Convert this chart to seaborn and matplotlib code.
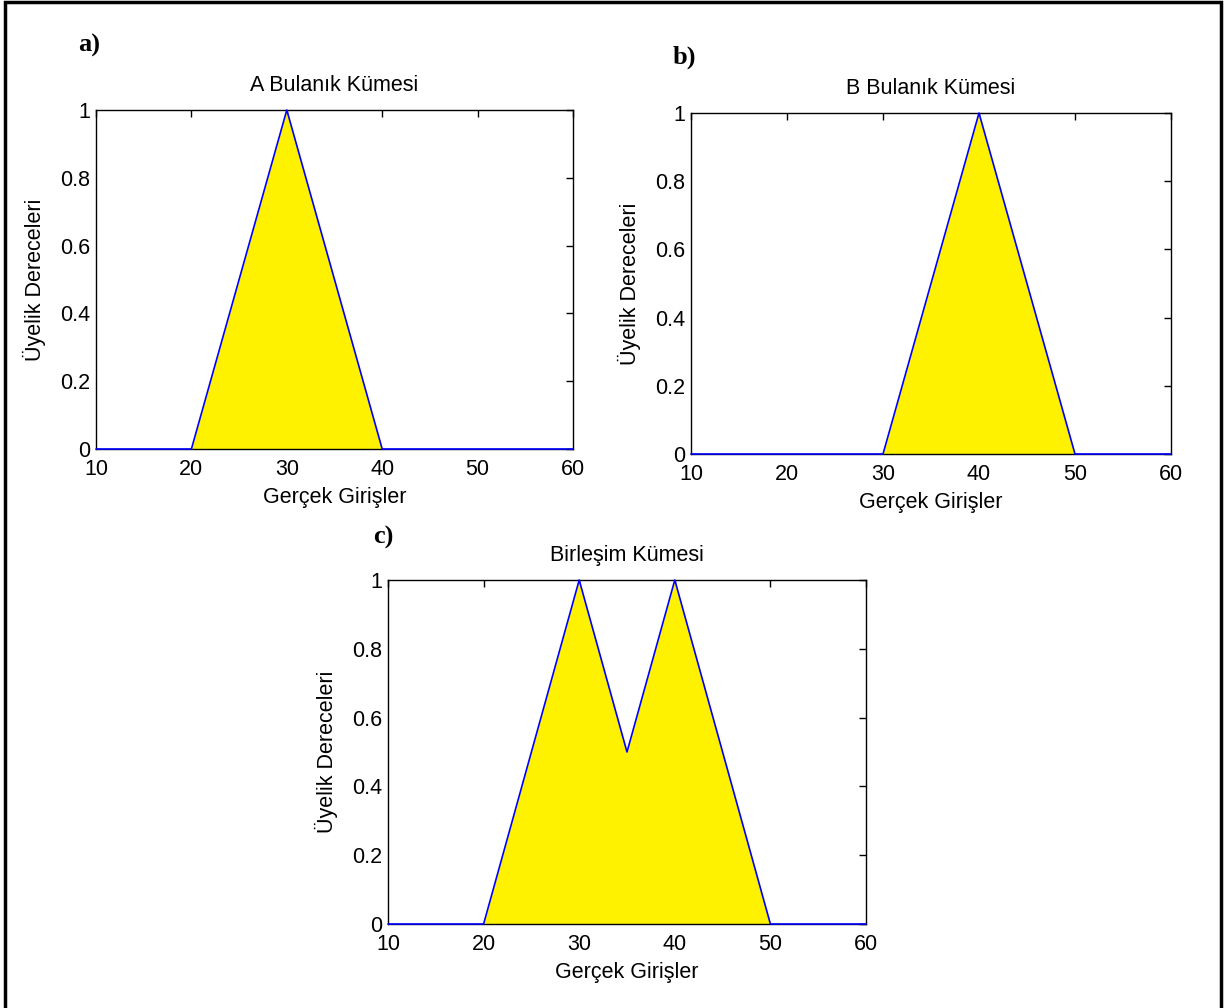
import numpy as np
import pandas as pd
import matplotlib
matplotlib.use("Agg")
import matplotlib.pyplot as plt
import seaborn as sns
from matplotlib.patches import Rectangle

sns.set_theme(style="white")
plt.rcParams['font.family'] = ['Liberation Sans', 'DejaVu Sans']

# Data
x_a = [10, 20, 30, 40, 60]
y_a = [0, 0, 1, 0, 0]
x_b = [10, 30, 40, 50, 60]
y_b = [0, 0, 1, 0, 0]
x_c = [10, 20, 30, 35, 40, 50, 60]
y_c = [0, 0, 1, 0.5, 1, 0, 0]

titles = ["A Bulanık Kümesi", "B Bulanık Kümesi", "Birleşim Kümesi"]
panel_labels = ["a)", "b)", "c)"]
xticks = [10, 20, 30, 40, 50, 60]
yticks = [0, 0.2, 0.4, 0.6, 0.8, 1]
ytick_labels = ["0", "0.2", "0.4", "0.6", "0.8", "1"]
xlabel = "Gerçek Girişler"
ylabel = "Üyelik Dereceleri"

W, H = 1228, 1008
fig = plt.figure(figsize=(W / 100, H / 100), dpi=100)

def rect(l, t, r, b):
    return [l / W, 1 - b / H, (r - l) / W, (b - t) / H]

positions = [rect(96, 110, 573, 449), rect(691, 113, 1171, 454), rect(388, 580, 866, 924)]
label_pos = [(89, 45), (684, 57), (383, 537)]
series = [(x_a, y_a), (x_b, y_b), (x_c, y_c)]
FS = 15.5

for pos, (xs, ys), title, lab, lp in zip(positions, series, titles, panel_labels, label_pos):
    ax = fig.add_axes(pos)
    ax.set_facecolor("white")
    ax.fill_between(xs, ys, 0, color="#FFF200", linewidth=0, zorder=1)
    df = pd.DataFrame({"x": xs, "y": ys})
    sns.lineplot(data=df, x="x", y="y", ax=ax, color="#0000FF", linewidth=1.2,
                 estimator=None, sort=False, zorder=3, clip_on=False)
    ax.set_xlim(10, 60)
    ax.set_ylim(0, 1)
    ax.set_xticks(xticks)
    ax.set_xticklabels([str(v) for v in xticks])
    ax.set_yticks(yticks)
    ax.set_yticklabels(ytick_labels)
    ax.tick_params(direction="in", length=5, width=1, top=True, right=True,
                   labelsize=FS, colors="black")
    ax.tick_params(axis="x", pad=7)
    ax.tick_params(axis="y", pad=4)
    for s in ax.spines.values():
        s.set_visible(True)
        s.set_color("black")
        s.set_linewidth(1)
        s.set_zorder(2)
    ax.set_xlabel(xlabel, fontsize=FS, color="black", labelpad=5)
    ax.set_ylabel(ylabel, fontsize=FS, color="black", labelpad=10)
    ax.set_title(title, fontsize=FS, color="black", pad=14)
    fig.text(lp[0] / W, 1 - lp[1] / H, lab, fontsize=19, fontweight="bold",
             family="Liberation Serif", ha="center", va="center", color="black")

# Outer border (left, top, right)
fig.add_artist(Rectangle((5 / W, -0.05), (1216) / W, 1 - 2 / H + 0.05,
                         transform=fig.transFigure, fill=False, edgecolor="black",
                         linewidth=2.5, zorder=10))

fig.savefig("out.png", dpi=100, facecolor="white")
